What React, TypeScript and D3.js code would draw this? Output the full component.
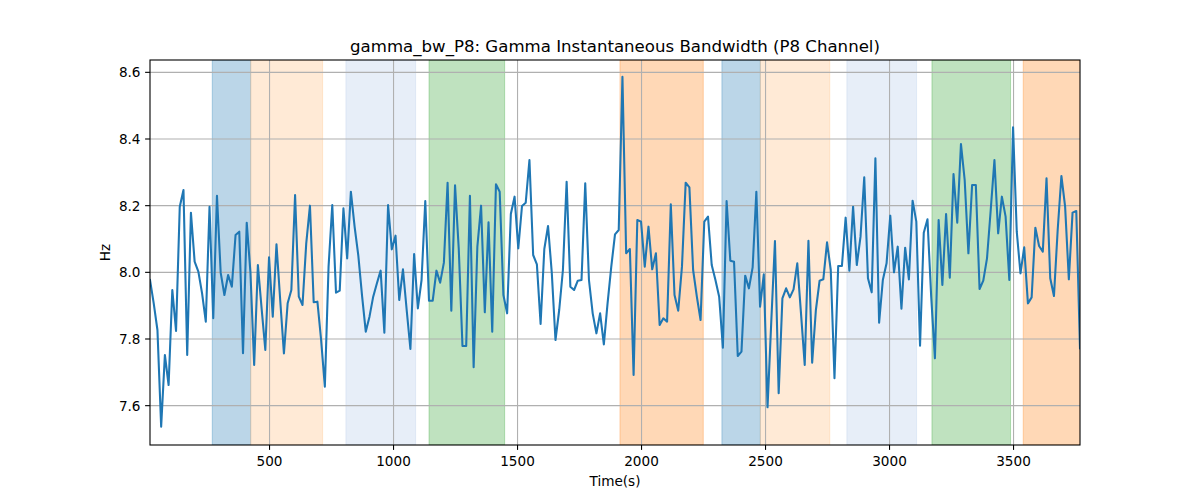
import * as d3 from 'd3';

// sampled gamma bandwidth, P8 channel (one sample every 15 s)
const t0 = 18;
const step = 15;
const values: number[] = [
  7.977, 7.907, 7.827, 7.537, 7.752, 7.662, 7.947, 7.824, 8.197, 8.247,
  7.752, 8.179, 8.032, 8.002, 7.937, 7.852, 8.197, 7.862, 8.23, 7.999,
  7.932, 7.992, 7.957, 8.112, 8.122, 7.757, 8.149, 8.0, 7.722, 8.022,
  7.892, 7.767, 8.045, 7.867, 8.084, 7.917, 7.757, 7.907, 7.947, 8.232,
  7.927, 7.902, 8.087, 8.2, 7.91, 7.912, 7.797, 7.657, 8.017, 8.202,
  7.939, 7.945, 8.192, 8.042, 8.242, 8.137, 8.05, 7.93, 7.822, 7.867,
  7.927, 7.967, 8.005, 7.819, 8.202, 8.069, 8.11, 7.917, 8.009, 7.887,
  7.77, 8.055, 7.892, 7.977, 8.214, 7.915, 7.915, 8.005, 7.969, 8.029,
  8.269, 7.885, 8.261, 8.07, 7.779, 7.779, 8.23, 7.715, 8.077, 8.2,
  7.88, 8.15, 7.822, 8.264, 8.242, 7.932, 7.877, 8.175, 8.227, 8.072,
  8.199, 8.209, 8.337, 8.052, 8.024, 7.845, 8.07, 8.139, 8.0, 7.797,
  7.887, 8.007, 8.272, 7.957, 7.947, 7.975, 7.977, 8.267, 7.977, 7.877,
  7.817, 7.877, 7.784, 7.907, 8.017, 8.114, 8.127, 8.587, 8.057, 8.07,
  7.692, 8.157, 8.152, 8.017, 8.137, 8.009, 8.057, 7.842, 7.862, 7.852,
  8.204, 7.932, 7.885, 8.017, 8.269, 8.255, 8.007, 7.927, 7.857, 8.152,
  8.167, 8.022, 7.977, 7.927, 7.774, 8.214, 8.035, 8.032, 7.749, 7.762,
  7.99, 7.952, 8.015, 8.242, 7.897, 7.994, 7.595, 7.85, 8.094, 7.637,
  7.922, 7.952, 7.925, 7.949, 8.027, 7.877, 7.722, 8.095, 7.729, 7.887,
  7.975, 7.979, 8.09, 8.007, 7.682, 8.019, 8.019, 8.164, 8.005, 8.197,
  8.022, 8.107, 8.285, 7.982, 7.94, 8.342, 7.849, 7.977, 8.027, 8.17,
  8.0, 8.077, 7.891, 8.074, 7.979, 8.215, 8.152, 7.78, 8.119, 8.159,
  7.927, 7.742, 8.157, 7.962, 8.175, 7.984, 8.295, 8.149, 8.385, 8.277,
  8.057, 8.262, 8.262, 7.95, 7.975, 8.042, 8.187, 8.337, 8.117, 8.227,
  8.167, 7.977, 8.435, 8.122, 7.997, 8.075, 7.907, 7.925, 8.134, 8.079,
  8.062, 8.282, 7.982, 7.929, 8.127, 8.289, 8.197, 7.979, 8.179, 8.184,
  7.772,
];
const times = values.map((_, i) => t0 + i * step);

// shaded segments [start, end, colour]
const spanStarts = [269, 424, 808, 1143, 1913, 2324, 2479, 2828, 3171, 3539];
const spanEnds = [424, 714, 1089, 1448, 2249, 2479, 2759, 3109, 3488, 3800];
const spanColors = [
  '#1f77b4', '#ffbb78', '#aec7e8', '#2ca02c', '#ff7f0e',
  '#1f77b4', '#ffbb78', '#aec7e8', '#2ca02c', '#ff7f0e',
];

const xTicks = [500, 1000, 1500, 2000, 2500, 3000, 3500];
const yTicks = [7.6, 7.8, 8.0, 8.2, 8.4, 8.6];

const width = 1200;
const height = 500;
const margin = { top: 60, right: 120, bottom: 55, left: 150 };
const font = 'DejaVu Sans, sans-serif';

export default function App() {
  const x = d3.scaleLinear()
    .domain([times[0], times[times.length - 1]])
    .range([margin.left, width - margin.right]);
  const y = d3.scaleLinear()
    .domain([7.482, 8.637])
    .range([height - margin.bottom, margin.top]);

  const line = d3.line<number>()
    .x((_, i) => x(times[i]))
    .y(d => y(d));

  const x0 = margin.left;
  const x1 = width - margin.right;
  const y0 = height - margin.bottom;
  const y1 = margin.top;

  return (
    <svg width={width} height={height} style={{ position: 'absolute', left: 0, top: 0, background: '#fff' }}>
      <defs>
        <clipPath id="plot">
          <rect x={x0} y={y1} width={x1 - x0} height={y0 - y1} />
        </clipPath>
      </defs>

      <g clipPath="url(#plot)">
        {spanStarts.map((s, i) => (
          <rect key={i}
            x={x(s)} y={y1}
            width={x(spanEnds[i]) - x(s)} height={y0 - y1}
            fill={spanColors[i]} fillOpacity={0.3}
            stroke={spanColors[i]} strokeOpacity={0.3} strokeWidth={1} />
        ))}
      </g>

      {xTicks.map(t => (
        <line key={'gx' + t} x1={x(t)} x2={x(t)} y1={y1} y2={y0} stroke="#b0b0b0" strokeWidth={1.1} />
      ))}
      {yTicks.map(t => (
        <line key={'gy' + t} x1={x0} x2={x1} y1={y(t)} y2={y(t)} stroke="#b0b0b0" strokeWidth={1.1} />
      ))}

      <path d={line(values) ?? ''} fill="none" stroke="#1f77b4" strokeWidth={2.08}
        strokeLinejoin="round" strokeLinecap="square" clipPath="url(#plot)" />

      <rect x={x0} y={y1} width={x1 - x0} height={y0 - y1} fill="none" stroke="#000" strokeWidth={1.1} />

      {xTicks.map(t => (
        <g key={'tx' + t}>
          <line x1={x(t)} x2={x(t)} y1={y0} y2={y0 + 4.9} stroke="#000" strokeWidth={1.1} />
          <text x={x(t)} y={y0 + 20.5} textAnchor="middle" fontFamily={font} fontSize={13.6} fill="#000">{t}</text>
        </g>
      ))}
      {yTicks.map(t => (
        <g key={'ty' + t}>
          <line x1={x0 - 4.9} x2={x0} y1={y(t)} y2={y(t)} stroke="#000" strokeWidth={1.1} />
          <text x={x0 - 9.5} y={y(t)} dy="0.36em" textAnchor="end" fontFamily={font} fontSize={13.6} fill="#000">{t.toFixed(1)}</text>
        </g>
      ))}

      <text x={(x0 + x1) / 2} y={52} textAnchor="middle" fontFamily={font} fontSize={16.6} fill="#000">
        gamma_bw_P8: Gamma Instantaneous Bandwidth (P8 Channel)
      </text>
      <text x={(x0 + x1) / 2} y={486} textAnchor="middle" fontFamily={font} fontSize={13.6} fill="#000">Time(s)</text>
      <text transform={`translate(110,${(y0 + y1) / 2}) rotate(-90)`} textAnchor="middle" fontFamily={font} fontSize={13.6} fill="#000">Hz</text>
    </svg>
  );
}
